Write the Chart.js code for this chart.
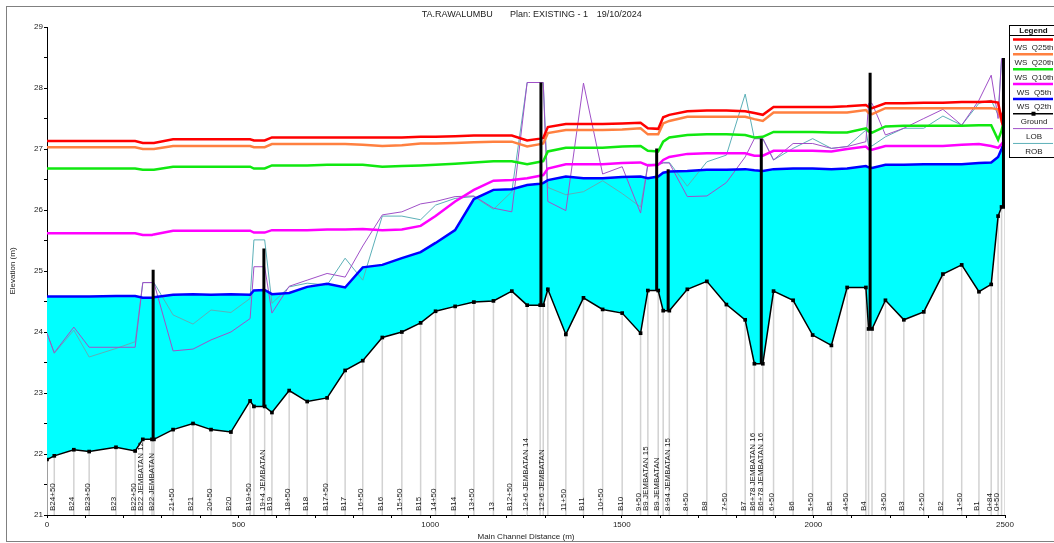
<!DOCTYPE html>
<html><head><meta charset="utf-8">
<script src="https://cdn.jsdelivr.net/npm/chart.js@4.4.0/dist/chart.umd.min.js"></script>
<style>html,body{margin:0;padding:0;background:#fff;overflow:hidden}#wrap{width:1054px;height:543px;position:relative}</style>
</head><body><div id="wrap"><canvas id="c"></canvas></div>
<script>
const titleParts = ["TA.RAWALUMBU", "Plan: EXISTING - 1", "19/10/2024"];
const xTitle = "Main Channel Distance (m)";
const yTitle = "Elevation (m)";

const stations = [0,19,70,110,180,230, 250,274,279, 329,381,428,480,530, 540,568,587, 632,679,731,778, 824,875,926,975,1014, 1065,1114,1165,1213, 1253,1287,1295,1307, 1354,1400,1450,1501,1549, 1568,1595,1608,1624, 1671,1722,1773,1822, 1846,1868,1896,1947, 1998,2047,2088,2137, 2144,2153,2188,2236, 2288,2338,2387,2432, 2464,2482,2491,2500];

const stationLabels = ["","B24+50","B24","B23+50","B23","B22+50", "B22 JEMBATAN 12","","B22 JEMBATAN", "21+50","B21","20+50","B20","B19+50", "","19+4 JEMBATAN","B19", "18+50","B18","B17+50","B17", "16+50","B16","15+50","B15","14+50", "B14","13+50","13","B12+50", "12+6 JEMBATAN 14","","12+6 JEMBATAN","", "11+50","B11","10+50","B10","9+50", "B9 JEMBATAN 15","B9 JEMBATAN","","8+94 JEMBATAN 15", "8+50","B8","7+50","B7", "B6+78 JEMBATAN 16","B6+78 JEMBATAN 16","6+50","B6", "5+50","B5","4+50","B4", "","","3+50","B3", "2+50","B2","1+50","B1", "0+84","0+50","",""];

const ground = [21.91,21.97,22.07,22.04,22.11,22.05, 22.24,22.24,22.24, 22.40,22.50,22.40,22.36,22.87, 22.78,22.78,22.68, 23.04,22.86,22.92,23.37, 23.53,23.91,24.00,24.15,24.34, 24.42,24.49,24.51,24.67, 24.44,24.44,24.44,24.70, 23.96,24.56,24.37,24.31,23.98, 24.68,24.68,24.35,24.35, 24.70,24.83,24.45,24.20, 23.48,23.48,24.67,24.52, 23.95,23.78,24.73,24.73, 24.05,24.05,24.52,24.20, 24.33,24.95,25.10,24.66, 24.78,25.90,26.05,26.05];

const wsQ2 = [24.58,24.58,24.58,24.58,24.59,24.59, 24.56,24.56,24.57, 24.61,24.62,24.61,24.62,24.61, 24.68,24.69,24.62, 24.64,24.74,24.79,24.73, 25.06,25.10,25.21,25.31,25.46, 25.67,26.18,26.33,26.34, 26.41,26.43,26.44,26.49, 26.55,26.52,26.52,26.54,26.55, 26.52,26.55,26.61,26.63, 26.64,26.66,26.66,26.67, 26.65,26.64,26.67,26.68, 26.68,26.67,26.68,26.72, 26.70,26.69,26.74,26.74, 26.75,26.75,26.75,26.77, 26.78,26.87,27.00,27.15];

const wsQ5 = [25.62,25.62,25.62,25.62,25.62,25.62, 25.59,25.59,25.60, 25.66,25.66,25.66,25.66,25.66, 25.63,25.63,25.67, 25.67,25.67,25.68,25.68, 25.69,25.67,25.68,25.74,25.90, 26.14,26.33,26.48,26.49, 26.52,26.56,26.57,26.68, 26.75,26.75,26.75,26.77,26.78, 26.73,26.74,26.82,26.87, 26.92,26.93,26.93,26.93, 26.89,26.89,26.97,26.97, 26.97,26.96,27.00,27.04, 27.00,26.99,27.05,27.05, 27.05,27.05,27.07,27.08, 27.05,27.02,27.08,27.15];

const wsQ10 = [26.68,26.68,26.68,26.68,26.68,26.68, 26.66,26.66,26.66, 26.71,26.71,26.71,26.71,26.71, 26.68,26.68,26.73, 26.73,26.73,26.74,26.74, 26.74,26.71,26.72,26.73,26.74, 26.76,26.78,26.80,26.80, 26.75,26.79,26.80,26.96, 27.02,27.02,27.02,27.04,27.05, 26.97,26.96,27.12,27.19, 27.23,27.24,27.24,27.23, 27.19,27.20,27.28,27.28, 27.28,27.27,27.27,27.34, 27.29,27.27,27.37,27.38, 27.38,27.38,27.38,27.39, 27.39,27.15,27.30,27.56];

const wsQ20 = [27.03,27.03,27.03,27.03,27.03,27.03, 27.00,27.00,27.00, 27.05,27.05,27.05,27.05,27.05, 27.03,27.03,27.08, 27.08,27.08,27.08,27.08, 27.07,27.05,27.06,27.09,27.09, 27.10,27.11,27.12,27.12, 27.04,27.08,27.09,27.26, 27.31,27.31,27.31,27.32,27.34, 27.24,27.24,27.42,27.46, 27.53,27.53,27.53,27.53, 27.49,27.46,27.60,27.60, 27.60,27.60,27.60,27.64, 27.59,27.57,27.67,27.67, 27.67,27.67,27.67,27.67, 27.67,27.65,27.46,27.70];

const wsQ25 = [27.13,27.13,27.13,27.13,27.13,27.13, 27.10,27.10,27.10, 27.16,27.16,27.16,27.16,27.16, 27.14,27.14,27.19, 27.19,27.19,27.19,27.19, 27.19,27.19,27.19,27.20,27.20, 27.21,27.22,27.22,27.22, 27.14,27.17,27.18,27.36, 27.41,27.41,27.41,27.42,27.43, 27.34,27.33,27.52,27.56, 27.62,27.63,27.63,27.62, 27.59,27.56,27.69,27.69, 27.69,27.69,27.70,27.72, 27.69,27.67,27.75,27.75, 27.76,27.76,27.77,27.77, 27.78,27.76,27.48,27.75];

const lob = [23.98,23.66,24.08,23.75,23.75,23.75, 24.81,24.81,24.81, 23.69,23.72,23.87,24.00,24.22, 25.07,25.07,24.31, 24.75,24.85,24.96,24.90, 25.41,25.92,25.97,26.10,26.14, 26.22,26.23,26.03,25.97, 28.09,28.09,28.09,26.14, 25.99,28.08,26.59,26.71,25.95, 26.74,26.74,26.77,26.77, 26.22,26.23,26.45,26.87, 27.17,27.17,26.82,27.09, 27.09,27.01,27.04,27.12, 27.75,27.75,27.23,27.34, 27.50,27.65,27.39,27.80, 28.21,27.50,28.48,28.48];

const rob = [23.98,23.65,24.03,23.59,23.73,23.84, 24.81,24.81,24.81, 24.28,24.13,24.36,24.32,24.55, 25.51,25.51,24.47, 24.74,24.80,24.77,25.21, 24.85,25.90,25.90,25.84,26.08, 26.19,26.22,26.01,26.30, 28.09,28.09,28.09,26.37, 26.25,26.30,26.48,26.27,26.05, 26.75,26.75,26.78,26.78, 26.39,26.79,26.90,27.90, 27.17,27.17,26.82,27.01, 27.17,27.01,27.04,27.31, 27.05,27.05,27.20,27.34, 27.34,27.54,27.39,27.75, 27.80,27.56,28.48,28.48];

const bridgeStations = [277, 566, 1289, 1591, 1621, 1864, 2148, 2496];
const bridgeBottom = [22.24, 22.78, 24.44, 24.68, 24.35, 23.48, 24.05, 26.05];
const bridgeTop = [25.02, 25.37, 28.09, 27.01, 26.67, 27.17, 28.25, 28.49];

const xTicks = { min: 0, max: 2500, minor: 100, major: 500 };
const yTicks = { min: 21, max: 29, minor: 0.5, major: 1 };

const FONT = '"Liberation Sans", Arial, sans-serif';

const pts = arr => stations.map((s, i) => ({ x: s, y: arr[i] }));
const bridgePts = [];
bridgeStations.forEach((s, i) => { bridgePts.push({x: s, y: bridgeBottom[i]}, {x: s, y: bridgeTop[i]}, {x: s, y: null}); });
const stationPts = [];
stations.forEach((s, i) => { stationPts.push({x: s, y: yTicks.min}, {x: s, y: ground[i]}, {x: s, y: null}); });

const line = (label, data, color, width, extra) => Object.assign({
  label, data, borderColor: color, backgroundColor: color, borderWidth: width,
  pointRadius: 0, fill: false, tension: 0
}, extra || {});

const datasets = [
  line('Ground', pts(ground), '#000000', 1.5, { pointRadius: 2.6, pointStyle: 'rect', pointBackgroundColor: '#000', pointBorderColor: '#000', pointBorderWidth: 0 }),
  line('Bridge', bridgePts, '#000000', 3),
  line('WS  Q25th', pts(wsQ25), '#ff0000', 2.5),
  line('WS  Q20th', pts(wsQ20), '#ff8040', 2.5),
  line('WS  Q10th', pts(wsQ10), '#10e810', 2.5),
  line('WS  Q5th', pts(wsQ5), '#ff00ff', 2.5),
  line('WS  Q2th', pts(wsQ2), '#0000ff', 2.5, { fill: { target: 0 }, backgroundColor: '#00ffff' }),
  line('LOB', pts(lob), '#a050c8', 1),
  line('ROB', pts(rob), '#5cb0b8', 1),
  line('Stations', stationPts, '#d2d2d2', 1.5)
];

const legendOrder = [2, 3, 4, 5, 6, 0, 7, 8];

const deco = {
  id: 'deco',
  beforeDraw(chart) {
    const ctx = chart.ctx;
    ctx.save(); ctx.fillStyle = '#fff'; ctx.fillRect(0, 0, chart.width, chart.height); ctx.restore();
  },
  afterDraw(chart) {
    const { ctx, chartArea: ca, scales: { x } } = chart;
    ctx.save();
    // outer frame
    ctx.strokeStyle = '#808080'; ctx.lineWidth = 1;
    ctx.strokeRect(6.5, 6.5, chart.width + 20, 535);
    // title
    ctx.fillStyle = '#222';
    ctx.font = '9px ' + FONT; ctx.textBaseline = 'middle'; ctx.textAlign = 'left';
    const tx = [421.7, 510, 596.7];
    titleParts.forEach((t, i) => ctx.fillText(t, tx[i], 15));
    // axis titles
    ctx.font = '8px ' + FONT; ctx.textAlign = 'center';
    ctx.fillText(xTitle, (ca.left + ca.right) / 2, 537);
    ctx.save(); ctx.translate(13, (ca.top + ca.bottom) / 2); ctx.rotate(-Math.PI / 2); ctx.fillText(yTitle, 0, 0); ctx.restore();
    // station labels
    ctx.textAlign = 'left'; ctx.textBaseline = 'alphabetic'; ctx.fillStyle = '#222';
    stations.forEach((s, i) => {
      if (!stationLabels[i]) return;
      const px = x.getPixelForValue(s);
      ctx.save(); ctx.translate(px + 0.5, ca.bottom - 4); ctx.rotate(-Math.PI / 2);
      ctx.fillText(stationLabels[i], 0, 0); ctx.restore();
    });
    // legend
    const lx = 1009.5, ly = 25.5, lw = 48, rowH = 14.85;
    const lh = 132;
    ctx.fillStyle = '#fff'; ctx.fillRect(lx, ly, lw, lh);
    ctx.strokeStyle = '#000'; ctx.lineWidth = 1; ctx.strokeRect(lx, ly, lw, lh);
    ctx.beginPath(); ctx.moveTo(lx, 35.5); ctx.lineTo(lx + lw, 35.5); ctx.stroke();
    ctx.fillStyle = '#111'; ctx.font = 'bold 8px ' + FONT; ctx.textAlign = 'center'; ctx.textBaseline = 'middle';
    const cx = lx + 24;
    ctx.fillText('Legend', cx, 30.7);
    ctx.font = '8px ' + FONT;
    legendOrder.forEach((di, k) => {
      const ds = chart.data.datasets[di];
      const yl = 39.5 + k * rowH;
      ctx.strokeStyle = ds.borderColor; ctx.lineWidth = ds.borderWidth;
      ctx.beginPath(); ctx.moveTo(1013, yl); ctx.lineTo(1053, yl); ctx.stroke();
      if (ds.pointStyle === 'rect') { ctx.fillStyle = ds.borderColor; ctx.fillRect(cx - 2, yl - 2, 4, 4); }
      ctx.fillStyle = '#222';
      ctx.fillText(ds.label, cx + 0.5, yl + 8.3);
    });
    ctx.restore();
  }
};

new Chart(document.getElementById('c'), {
  type: 'line',
  data: { datasets },
  options: {
    responsive: true, maintainAspectRatio: false, animation: false, events: [],
    layout: { padding: { left: 6, right: 49, top: 27, bottom: 0 } },
    plugins: { legend: { display: false }, title: { display: false }, tooltip: { enabled: false }, filler: { drawTime: 'beforeDatasetsDraw' } },
    scales: {
      x: {
        type: 'linear', min: xTicks.min, max: xTicks.max,
        afterFit(s) { s.height = 28; },
        ticks: { stepSize: xTicks.minor, autoSkip: false, maxRotation: 0, padding: 2, color: '#222', font: { size: 8, family: FONT },
          callback: v => (v % xTicks.major === 0 ? String(v) : '') },
        grid: { drawOnChartArea: false, drawTicks: true, tickLength: 3, color: '#000' },
        border: { color: '#000', width: 1 }
      },
      y: {
        type: 'linear', min: yTicks.min, max: yTicks.max,
        afterFit(s) { s.width = 41; },
        ticks: { stepSize: yTicks.minor, autoSkip: false, padding: 1, color: '#222', font: { size: 8, family: FONT },
          callback: v => (Math.abs(v % yTicks.major) < 1e-9 ? String(v) : '') },
        grid: { drawOnChartArea: false, drawTicks: true, tickLength: 3, color: '#000' },
        border: { color: '#000', width: 1 }
      }
    }
  },
  plugins: [deco]
});
</script>
</body></html>
